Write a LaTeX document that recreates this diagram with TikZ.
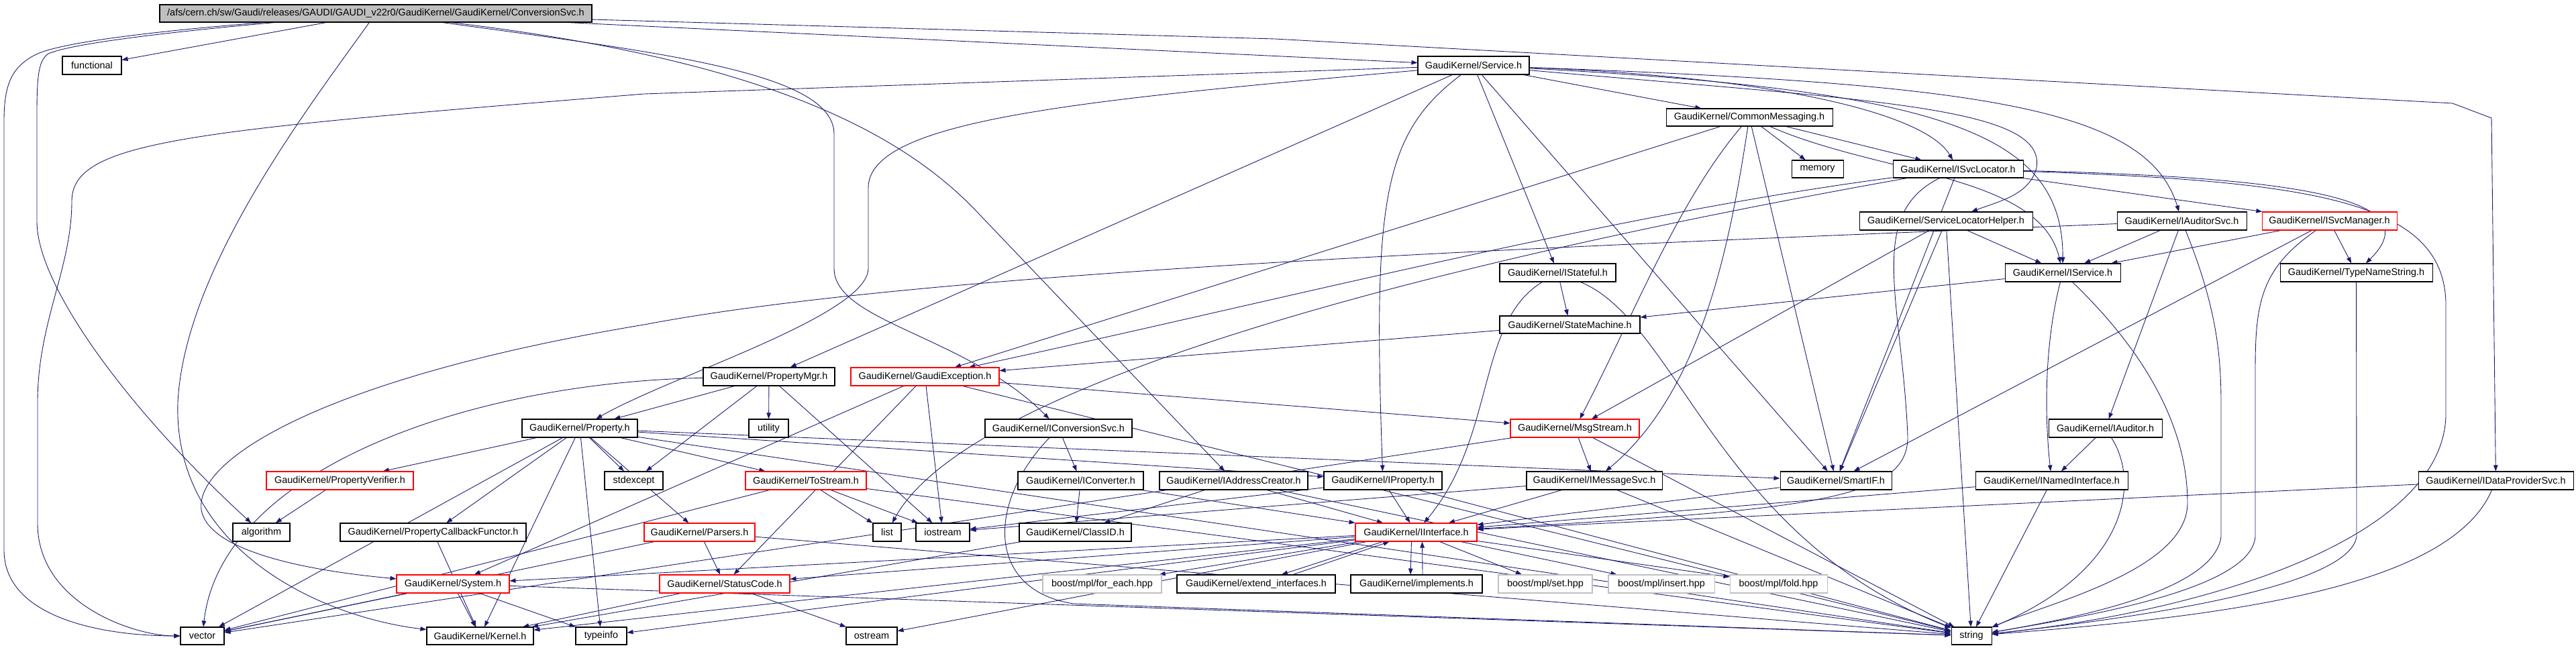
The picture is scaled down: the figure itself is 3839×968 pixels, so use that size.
\documentclass[tikz,border=0pt]{standalone}
\usepackage{fontspec}
\setmainfont{Liberation Sans}
\usetikzlibrary{arrows.meta,calc}
\definecolor{edgec}{HTML}{191970}
\definecolor{redb}{HTML}{FF0000}
\definecolor{grayb}{HTML}{BFBFBF}
\pgfdeclarelayer{bg}
\pgfsetlayers{bg,main}
\tikzset{
  box/.style={draw=black, line width=0.6pt, fill=white, inner sep=0pt, font=\fontsize{8.2}{9.8}\selectfont, text=black},
  plain/.style={},
  redn/.style={draw=redb},
  grayn/.style={draw=grayb},
  rootn/.style={fill=grayb},
  e/.style={draw=edgec, line width=0.5pt, -{Triangle[length=1.8mm,width=1.3mm]}}
}
\newcommand\nd[7][plain]{%
  \node[box,#1,minimum width={(#5-#3)*0.2mm},minimum height={(#6-#4)*0.2mm}] (#2) at ({(#3+#5)/2},{(#4+#6)/2}) {#7};}
\begin{document}
\begin{tikzpicture}[x=0.2mm,y=-0.2mm]
\useasboundingbox (0,0) rectangle (3839,968);
\nd[rootn]{root}{238}{7}{882}{33}{/afs/cern.ch/sw/Gaudi/releases/GAUDI/GAUDI\_v22r0/GaudiKernel/GaudiKernel/ConversionSvc.h}
\nd{functional}{93}{84}{181}{111}{functional}
\nd{Service}{2113}{84}{2279}{111}{GaudiKernel/Service.h}
\nd{CommonMessaging}{2483}{162}{2731}{188}{GaudiKernel/CommonMessaging.h}
\nd{memory}{2670}{239}{2747}{265}{memory}
\nd{ISvcLocator}{2821}{239}{3015}{265}{GaudiKernel/ISvcLocator.h}
\nd{SLH}{2771}{316}{3029}{343}{GaudiKernel/ServiceLocatorHelper.h}
\nd{IAuditorSvc}{3155}{316}{3348}{343}{GaudiKernel/IAuditorSvc.h}
\nd[redn]{ISvcManager}{3371}{316}{3572}{343}{GaudiKernel/ISvcManager.h}
\nd{IStateful}{2235}{393}{2408}{420}{GaudiKernel/IStateful.h}
\nd{IService}{2988}{393}{3160}{420}{GaudiKernel/IService.h}
\nd{TypeNameString}{3398}{393}{3625}{420}{GaudiKernel/TypeNameString.h}
\nd{StateMachine}{2235}{471}{2444}{497}{GaudiKernel/StateMachine.h}
\nd{PropertyMgr}{1048}{548}{1244}{575}{GaudiKernel/PropertyMgr.h}
\nd[redn]{GaudiException}{1268}{548}{1489}{575}{GaudiKernel/GaudiException.h}
\nd{Property}{778}{625}{950}{652}{GaudiKernel/Property.h}
\nd{utility}{1116}{625}{1175}{652}{utility}
\nd{IConversionSvc}{1468}{625}{1687}{652}{GaudiKernel/IConversionSvc.h}
\nd[redn]{MsgStream}{2251}{625}{2443}{652}{GaudiKernel/MsgStream.h}
\nd{IAuditor}{3053}{625}{3222}{652}{GaudiKernel/IAuditor.h}
\nd[redn]{PropertyVerifier}{397}{703}{616}{730}{GaudiKernel/PropertyVerifier.h}
\nd{stdexcept}{901}{703}{988}{730}{stdexcept}
\nd[redn]{ToStream}{1111}{703}{1291}{730}{GaudiKernel/ToStream.h}
\nd{IConverter}{1517}{703}{1704}{730}{GaudiKernel/IConverter.h}
\nd{IAddressCreator}{1728}{703}{1949}{730}{GaudiKernel/IAddressCreator.h}
\nd{IProperty}{1973}{703}{2149}{730}{GaudiKernel/IProperty.h}
\nd{IMessageSvc}{2275}{703}{2477}{730}{GaudiKernel/IMessageSvc.h}
\nd{SmartIF}{2653}{703}{2819}{730}{GaudiKernel/SmartIF.h}
\nd{INamedInterface}{2944}{703}{3171}{730}{GaudiKernel/INamedInterface.h}
\nd{IDataProviderSvc}{3604}{703}{3835}{730}{GaudiKernel/IDataProviderSvc.h}
\nd{algorithm}{347}{780}{432}{807}{algorithm}
\nd{PCF}{507}{780}{784}{807}{GaudiKernel/PropertyCallbackFunctor.h}
\nd[redn]{Parsers}{960}{780}{1125}{807}{GaudiKernel/Parsers.h}
\nd{list}{1301}{780}{1343}{807}{list}
\nd{iostream}{1365}{780}{1445}{807}{iostream}
\nd{ClassID}{1519}{780}{1686}{807}{GaudiKernel/ClassID.h}
\nd[redn]{IInterface}{2020}{780}{2201}{807}{GaudiKernel/IInterface.h}
\nd[redn]{System}{591}{857}{759}{884}{GaudiKernel/System.h}
\nd[redn]{StatusCode}{983}{857}{1177}{884}{GaudiKernel/StatusCode.h}
\nd[grayn]{foreach}{1554}{857}{1731}{884}{boost/mpl/for\_each.hpp}
\nd{extend}{1754}{857}{1990}{884}{GaudiKernel/extend\_interfaces.h}
\nd{implements}{2013}{857}{2209}{884}{GaudiKernel/implements.h}
\nd[grayn]{set}{2233}{857}{2373}{884}{boost/mpl/set.hpp}
\nd[grayn]{insert}{2397}{857}{2555}{884}{boost/mpl/insert.hpp}
\nd[grayn]{fold}{2578}{857}{2723}{884}{boost/mpl/fold.hpp}
\nd{vector}{269}{935}{334}{961}{vector}
\nd{Kernel}{636}{935}{795}{961}{GaudiKernel/Kernel.h}
\nd{typeinfo}{858}{935}{934}{961}{typeinfo}
\nd{ostream}{1261}{935}{1337}{961}{ostream}
\nd{string}{2908}{935}{2968}{961}{string}
\begin{pgfonlayer}{bg}
% root
\draw[e] (root) -- (functional);
\draw[e] (root) .. controls (250,45) and (90,62) .. (52,82) .. controls (18,100) and (6,125) .. (6,180) -- (6,820) .. controls (6,920) and (150,948) .. (vector);
\draw[e] (root) .. controls (260,47) and (110,64) .. (72,80) .. controls (58,90) and (55,110) .. (55,170) -- (55,330) .. controls (55,430) and (200,620) .. (algorithm);
\draw[e] (root) .. controls (460,160) and (275,400) .. (265,600) .. controls (258,820) and (480,920) .. (Kernel);
\draw[e] (root) -- (Service);
\draw[e] (root) .. controls (1000,80) and (1243,110) .. (1243,200) -- (1243,400) .. controls (1243,480) and (1440,500) .. (IConversionSvc);
\draw[e] (root) .. controls (1100,85) and (1330,180) .. (1460,320) -- (IAddressCreator);
\draw[e] (root) -- (1900,58) -- (3655,154) -- (3713,176) -- (IDataProviderSvc);
% Service
\draw[e] (Service) -- (960,140) .. controls (280,195) and (107,210) .. (107,300) .. controls (107,400) and (56,480) .. (56,600) -- (56,780) .. controls (56,900) and (200,948) .. (vector);
\draw[e] (Service) .. controls (1600,150) and (1294,180) .. (1294,280) -- (1294,400) .. controls (1294,470) and (1000,560) .. (Property);
\draw[e] (Service) -- (PropertyMgr);
\draw[e] (Service) .. controls (2060,200) and (2046,300) .. (IProperty);
\draw[e] (Service) -- (IStateful);
\draw[e] (Service) -- (SmartIF);
\draw[e] (Service) -- (CommonMessaging);
\draw[e] (Service) .. controls (2950,125) and (3200,160) .. (IAuditorSvc);
\draw[e] (Service) .. controls (2650,115) and (2870,170) .. (ISvcLocator);
\draw[e] (Service) .. controls (2800,150) and (3050,160) .. (3035,250) .. controls (3025,290) and (2980,300) .. (SLH);
\draw[e] (Service) .. controls (2900,135) and (3075,200) .. (IService);
% CommonMessaging
\draw[e] (CommonMessaging) -- (memory);
\draw[e] (CommonMessaging) -- (ISvcLocator);
\draw[e] (CommonMessaging) .. controls (2800,260) and (3040,260) .. (IService);
\draw[e] (CommonMessaging) .. controls (2500,300) and (2430,480) .. (MsgStream);
\draw[e] (CommonMessaging) .. controls (2580,350) and (2540,580) .. (IMessageSvc);
\draw[e] (CommonMessaging) -- (SmartIF);
\draw[e] (CommonMessaging) -- (GaudiException);
% ISvcLocator
\draw[e] (ISvcLocator) -- (ISvcManager);
\draw[e] (ISvcLocator) .. controls (3450,265) and (3620,300) .. (TypeNameString);
\draw[e] (ISvcLocator) .. controls (3450,270) and (3640,300) .. (3645,450) -- (3645,620) .. controls (3640,800) and (3300,910) .. (string);
\draw[e] (ISvcLocator) -- (SmartIF);
\draw[e] (ISvcLocator) .. controls (2780,320) and (2835,450) .. (2843,650) .. controls (2845,745) and (2700,760) .. (IInterface);
\draw[e] (ISvcLocator) .. controls (2400,320) and (1900,450) .. (GaudiException);
\draw[e] (ISvcLocator) .. controls (2200,380) and (1450,560) .. (list);
% ServiceLocatorHelper
\draw[e] (SLH) -- (IService);
\draw[e] (SLH) -- (string);
\draw[e] (SLH) -- (SmartIF);
\draw[e] (SLH) -- (MsgStream);
% IAuditorSvc
\draw[e] (IAuditorSvc) -- (IService);
\draw[e] (IAuditorSvc) -- (IAuditor);
\draw[e] (IAuditorSvc) .. controls (3300,450) and (3310,520) .. (3310,600) -- (3310,800) .. controls (3300,880) and (3100,920) .. (string);
\draw[e] (IAuditorSvc) .. controls (2400,365) and (1400,400) .. (960,484) .. controls (500,560) and (290,680) .. (300,760) .. controls (310,820) and (450,850) .. (System);
% ISvcManager
\draw[e] (ISvcManager) -- (IService);
\draw[e] (ISvcManager) -- (TypeNameString);
\draw[e] (ISvcManager) -- (SmartIF);
\draw[e] (ISvcManager) .. controls (3370,400) and (3361,450) .. (3361,550) -- (3361,800) .. controls (3355,880) and (3100,920) .. (string);
% TypeNameString
\draw[e] (TypeNameString) -- (3512,800) .. controls (3500,880) and (3150,925) .. (string);
% IService
\draw[e] (IService) -- (StateMachine);
\draw[e] (IService) .. controls (3050,500) and (3045,600) .. (INamedInterface);
\draw[e] (IService) .. controls (3150,480) and (3260,600) .. (3260,750) .. controls (3260,850) and (3050,900) .. (string);
% IStateful
\draw[e] (IStateful) -- (StateMachine);
\draw[e] (IStateful) .. controls (2200,480) and (2230,650) .. (IInterface);
\draw[e] (IStateful) .. controls (2500,480) and (2560,800) .. (string);
% StateMachine
\draw[e] (StateMachine) -- (GaudiException);
% GaudiException
\draw[e] (GaudiException) -- (MsgStream);
\draw[e] (GaudiException) -- (iostream);
\draw[e] (GaudiException) -- (string);
\draw[e] (GaudiException) -- (System);
\draw[e] (GaudiException) -- (StatusCode);
% PropertyMgr
\draw[e] (PropertyMgr) -- (Property);
\draw[e] (PropertyMgr) -- (utility);
\draw[e] (PropertyMgr) -- (stdexcept);
\draw[e] (PropertyMgr) -- (iostream);
\draw[e] (PropertyMgr) .. controls (700,570) and (330,700) .. (vector);
% Property
\draw[e] (Property) -- (PropertyVerifier);
\draw[e] (Property) -- (PCF);
\draw[e] (Property) -- (stdexcept);
\draw[e] (Property) -- (typeinfo);
\draw[e] (Property) -- (Parsers);
\draw[e] (Property) -- (ToStream);
\draw[e] (Property) -- (IProperty);
\draw[e] (Property) -- (SmartIF);
\draw[e] (Property) -- (string);
\draw[e] (Property) -- (vector);
\draw[e] (Property) -- (Kernel);
% misc
\draw[e] (PropertyVerifier) -- (algorithm);
\draw[e] (PCF) -- (Kernel);
\draw[e] (ToStream) -- (list);
\draw[e] (ToStream) -- (iostream);
\draw[e] (ToStream) -- (vector);
\draw[e] (ToStream) -- (string);
\draw[e] (Parsers) -- (StatusCode);
\draw[e] (Parsers) -- (vector);
\draw[e] (Parsers) -- (string);
\draw[e] (IConversionSvc) -- (IConverter);
\draw[e] (IConversionSvc) .. controls (1470,750) and (1470,880) .. (1600,900) -- (string);
\draw[e] (IConverter) -- (ClassID);
\draw[e] (IConverter) -- (IInterface);
\draw[e] (IAddressCreator) -- (ClassID);
\draw[e] (IAddressCreator) -- (IInterface);
\draw[e] (IAddressCreator) -- (string);
\draw[e] (ClassID) -- (Kernel);
\draw[e] (IProperty) -- (IInterface);
\draw[e] (IProperty) -- (string);
\draw[e] (IProperty) -- (iostream);
\draw[e] (IMessageSvc) -- (IInterface);
\draw[e] (IMessageSvc) -- (string);
\draw[e] (IMessageSvc) -- (iostream);
\draw[e] (MsgStream) -- (IMessageSvc);
\draw[e] (MsgStream) -- (string);
\draw[e] (MsgStream) -- (vector);
\draw[e] (SmartIF) -- (IInterface);
\draw[e] (INamedInterface) -- (IInterface);
\draw[e] (INamedInterface) -- (string);
\draw[e] (IAuditor) -- (INamedInterface);
\draw[e] (IAuditor) .. controls (3190,720) and (3170,850) .. (string);
\draw[e] (IDataProviderSvc) -- (IInterface);
\draw[e] (IDataProviderSvc) .. controls (3650,880) and (3300,920) .. (string);
% IInterface
\draw[e] (IInterface) -- (Kernel);
\draw[e] (IInterface) -- (System);
\draw[e] (IInterface) -- (StatusCode);
\draw[e] (IInterface) -- (ostream);
\draw[e] (IInterface) -- (typeinfo);
\draw[e] (IInterface) -- (foreach);
\draw[e] (IInterface) -- (set);
\draw[e] (IInterface) -- (insert);
\draw[e] (IInterface) -- (fold);
\draw[e] ($(IInterface.south)+(-7,0)$) -- ($(implements.north)+(-9,0)$);
\draw[e] ($(implements.north)+(9,0)$) -- ($(IInterface.south)+(9,0)$);
\draw[e] ($(IInterface.south)+(-50,0)$) -- ($(extend.north)+(38,0)$);
\draw[e] ($(extend.north)+(55,0)$) -- ($(IInterface.south)+(-40,0)$);
% System, StatusCode
\draw[e] (System) -- (vector);
\draw[e] (System) -- (Kernel);
\draw[e] (System) -- (typeinfo);
\draw[e] (System) -- (string);
\draw[e] (StatusCode) -- (ostream);
\draw[e] (StatusCode) -- (Kernel);
\end{pgfonlayer}
\end{tikzpicture}
\end{document}
